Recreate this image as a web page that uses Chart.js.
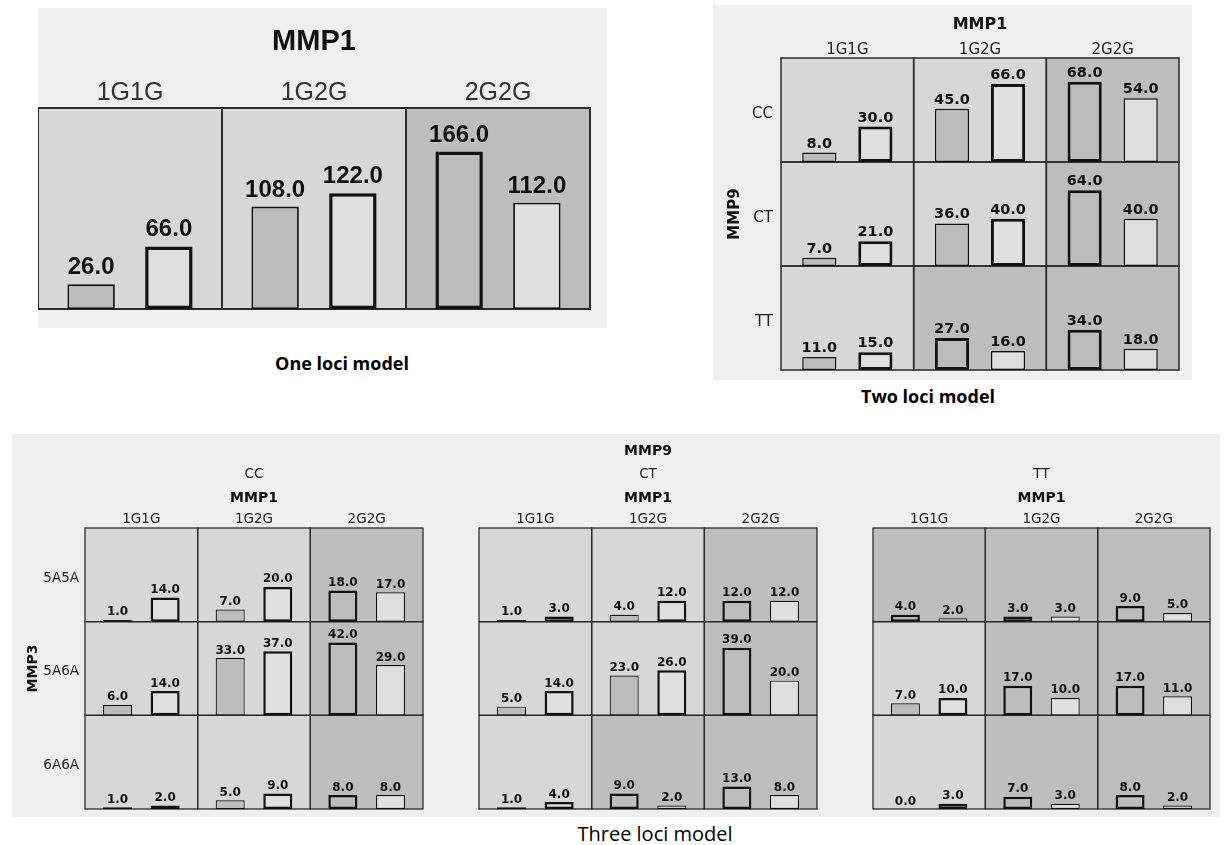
<!DOCTYPE html>
<html><head><meta charset="utf-8">
<script src="https://cdn.jsdelivr.net/npm/chart.js@4.4.1/dist/chart.umd.min.js"></script>
<style>
body{margin:0;background:#fff;}
#root{position:relative;width:1225px;height:845px;overflow:hidden;background:#fff;}
.bg{position:absolute;background:#efefef;}
canvas{position:absolute;}
.cap{position:absolute;font-family:'Open Sans',sans-serif;color:#000;transform:translate(-50%,-50%);white-space:nowrap;line-height:1;}
</style></head><body>
<div id="root">
 <div class="bg" style="left:38px;top:8px;width:569px;height:320px"></div>
 <div class="bg" style="left:713px;top:5px;width:479px;height:375px"></div>
 <div class="bg" style="left:12px;top:434px;width:1208px;height:383px"></div>
 <canvas id="p1" width="569" height="320" style="left:38px;top:8px"></canvas>
 <canvas id="p2" width="479" height="375" style="left:713px;top:5px"></canvas>
 <canvas id="p3cc" width="418" height="383" style="left:12px;top:434px"></canvas>
 <canvas id="p3ct" width="410" height="383" style="left:430px;top:434px"></canvas>
 <canvas id="p3tt" width="380" height="383" style="left:840px;top:434px"></canvas>
 <div class="cap" style="left:342px;top:363px;font-weight:700;font-size:18px">One loci model</div>
 <div class="cap" style="left:928px;top:396px;font-weight:700;font-size:18px">Two loci model</div>
 <div class="cap" style="left:655px;top:834px;font-weight:400;font-size:20px">Three loci model</div>
</div>
<script>
// ---- categories ----
const MMP1 = ['1G1G', '1G2G', '2G2G'];
const MMP9 = ['CC', 'CT', 'TT'];
const MMP3 = ['5A5A', '5A6A', '6A6A'];

// ---- one locus model (MMP1) ----
const oneCases = [26, 108, 166];
const oneControls = [66, 122, 112];

// ---- two loci model (rows: MMP9, columns: MMP1) ----
const twoCases = [[8, 45, 68], [7, 36, 64], [11, 27, 34]];
const twoControls = [[30, 66, 54], [21, 40, 40], [15, 16, 18]];

// ---- three loci model (MMP9 groups; rows: MMP3, columns: MMP1) ----
const threeCasesCC = [[1, 7, 18], [6, 33, 42], [1, 5, 8]];
const threeControlsCC = [[14, 20, 17], [14, 37, 29], [2, 9, 8]];
const threeCasesCT = [[1, 4, 12], [5, 23, 39], [1, 9, 13]];
const threeControlsCT = [[3, 12, 12], [14, 26, 20], [4, 2, 8]];
const threeCasesTT = [[4, 3, 9], [7, 17, 17], [0, 7, 8]];
const threeControlsTT = [[2, 3, 5], [10, 10, 11], [3, 3, 2]];

Chart.defaults.animation = false;
Chart.defaults.font.family = 'DejaVu Sans';
Chart.defaults.color = '#222';

const COL = {low: '#d7d7d7', high: '#bdbdbd', caseFill: '#bcbcbc', ctrlFill: '#dfdfdf', line: '#2b2b2b', bar: '#111'};

function makeChart(id, o) {
  const n = o.cases.length;
  const scales = {
    x: {
      type: 'category', labels: MMP1, position: 'top', offset: true, stacked: true,
      grid: {display: false, drawTicks: false}, border: {display: false},
      ticks: {font: o.tickFont, color: o.tickColor || '#222', padding: o.xTickPad, autoSkip: false, maxRotation: 0},
      title: {display: true, text: 'MMP1', font: o.titleFont, color: '#111', padding: {top: o.xTitlePad, bottom: 0}},
      afterFit: s => { s.height = o.xH; s.paddingLeft = 0; s.paddingRight = 0; }
    }
  };
  const datasets = [];
  for (let r = 0; r < n; r++) {
    const yid = 'y' + r;
    scales[yid] = {
      type: 'linear', position: 'left', stack: 'rows', stackWeight: 1, weight: n - r,
      min: 0, max: o.yMax, stacked: false,
      grid: {display: false, drawTicks: false}, border: {display: false},
      afterBuildTicks: s => { s.ticks = [{value: o.yMax * 0.465}]; },
      ticks: {display: !!o.rowLabels, callback: () => (o.rowLabels ? o.rowLabels[r] : ''), font: o.tickFont, color: '#222', padding: o.yTickPad || 0},
      title: (o.yTitle && r === Math.floor(n / 2))
        ? {display: true, text: o.yTitle, font: o.yTitleFont, color: '#111', padding: {top: o.yTitlePad, bottom: 0}}
        : {display: false},
      afterFit: s => { s.width = o.leftW; s.paddingTop = 0; s.paddingBottom = 0; }
    };
    const hi = o.cases[r].map((v, i) => v >= o.controls[r][i]);
    datasets.push({
      label: 'case', stack: 'case', yAxisID: yid, data: o.cases[r],
      backgroundColor: COL.caseFill, borderColor: COL.bar, borderSkipped: false,
      borderWidth: c => (hi[c.dataIndex] ? o.thick : o.thin)
    });
    datasets.push({
      label: 'control', stack: 'control', yAxisID: yid, data: o.controls[r],
      backgroundColor: COL.ctrlFill, borderColor: COL.bar, borderSkipped: false,
      borderWidth: c => (hi[c.dataIndex] ? o.thin : o.thick)
    });
  }

  const cellPlugin = {
    id: 'mdrCells',
    beforeDatasetsDraw(chart) {
      const ctx = chart.ctx, xs = chart.scales.x;
      const rects = [];
      for (let r = 0; r < n; r++) {
        const ys = chart.scales['y' + r];
        const top = ys.getPixelForValue(o.yMax), bot = ys.getPixelForValue(0);
        for (let i = 0; i < MMP1.length; i++) {
          const l = xs.getPixelForValue(i - 0.5), rt = xs.getPixelForValue(i + 0.5);
          rects.push([l, top, rt - l, bot - top, o.cases[r][i] >= o.controls[r][i]]);
        }
      }
      ctx.save();
      rects.forEach(q => { ctx.fillStyle = q[4] ? COL.high : COL.low; ctx.fillRect(q[0], q[1], q[2], q[3]); });
      ctx.strokeStyle = COL.line; ctx.lineWidth = o.gridW;
      rects.forEach(q => ctx.strokeRect(q[0], q[1], q[2], q[3]));
      ctx.restore();
    },
    afterDatasetsDraw(chart) {
      const ctx = chart.ctx;
      ctx.save();
      ctx.font = o.valueFont; ctx.fillStyle = '#111';
      ctx.textAlign = 'center'; ctx.textBaseline = 'alphabetic';
      chart.data.datasets.forEach((ds, d) => {
        chart.getDatasetMeta(d).data.forEach((el, i) => {
          ctx.fillText(ds.data[i].toFixed(1), el.x, el.y - o.valOff);
        });
      });
      ctx.restore();
    }
  };

  return new Chart(document.getElementById(id), {
    type: 'bar',
    data: {labels: MMP1, datasets},
    options: {
      responsive: false, animation: false,
      layout: {padding: o.padding},
      datasets: {bar: {categoryPercentage: 0.845, barPercentage: 0.61}},
      scales,
      plugins: {
        legend: {display: false}, tooltip: {enabled: false},
        title: o.chartTitle
          ? {display: true, text: o.chartTitle, fullSize: false, color: '#111', font: {family: 'DejaVu Sans', size: 14, weight: 'bold', lineHeight: 1.2}, padding: {top: 9, bottom: 0}}
          : {display: false},
        subtitle: o.subtitle
          ? {display: true, text: o.subtitle, fullSize: false, color: '#222', font: {family: 'DejaVu Sans', size: 13.5, lineHeight: 1.2}, padding: {top: 7, bottom: 0}}
          : {display: false}
      }
    },
    plugins: [cellPlugin]
  });
}

// One loci model
makeChart('p1', {
  cases: [oneCases], controls: [oneControls], rowLabels: null, yMax: 212,
  leftW: 0, xH: 100, padding: {left: 0, top: 0, right: 17, bottom: 19},
  tickFont: {family: 'Liberation Sans', size: 25, lineHeight: 1.2}, tickColor: '#333', xTickPad: 0,
  titleFont: {family: 'Liberation Sans', size: 29, weight: 'bold', lineHeight: 1.2}, xTitlePad: 17,
  valueFont: 'bold 24px "Liberation Sans"', valOff: 10, thick: 3.5, thin: 1.8, gridW: 2
});

// Two loci model
makeChart('p2', {
  cases: twoCases, controls: twoControls, rowLabels: MMP9, yMax: 88,
  leftW: 68, xH: 53, padding: {left: 0, top: 0, right: 13, bottom: 10},
  tickFont: {family: 'DejaVu Sans', size: 15, lineHeight: 1.0}, xTickPad: 0.5, yTickPad: 8,
  titleFont: {family: 'DejaVu Sans', size: 16, weight: 'bold', lineHeight: 1.2}, xTitlePad: 10.5,
  yTitle: 'MMP9', yTitleFont: {family: 'DejaVu Sans', size: 15, weight: 'bold', lineHeight: 1.2}, yTitlePad: 13,
  valueFont: 'bold 14.5px "DejaVu Sans"', valOff: 5, thick: 3, thin: 1.5, gridW: 1.5
});

// Three loci model
const p3common = {
  yMax: 54, xH: 45,
  tickFont: {family: 'DejaVu Sans', size: 13.5, lineHeight: 1.2}, xTickPad: 0,
  titleFont: {family: 'DejaVu Sans', size: 14, weight: 'bold', lineHeight: 1.2}, xTitlePad: 6.6,
  valueFont: 'bold 12px "DejaVu Sans"', valOff: 4.5, thick: 2.5, thin: 1.2, gridW: 1.3
};
makeChart('p3cc', Object.assign({}, p3common, {
  cases: threeCasesCC, controls: threeControlsCC, rowLabels: MMP3, yTickPad: 6,
  yTitle: 'MMP3', yTitleFont: {family: 'DejaVu Sans', size: 14, weight: 'bold', lineHeight: 1.2}, yTitlePad: 12.6,
  leftW: 73, padding: {left: 0, top: 25.8, right: 7, bottom: 8}, subtitle: 'CC'
}));
makeChart('p3ct', Object.assign({}, p3common, {
  cases: threeCasesCT, controls: threeControlsCT, rowLabels: null,
  leftW: 49, padding: {left: 0, top: 0, right: 23, bottom: 8}, chartTitle: 'MMP9', subtitle: 'CT'
}));
makeChart('p3tt', Object.assign({}, p3common, {
  cases: threeCasesTT, controls: threeControlsTT, rowLabels: null,
  leftW: 33, padding: {left: 0, top: 25.8, right: 10, bottom: 8}, subtitle: 'TT'
}));
</script>
</body></html>
